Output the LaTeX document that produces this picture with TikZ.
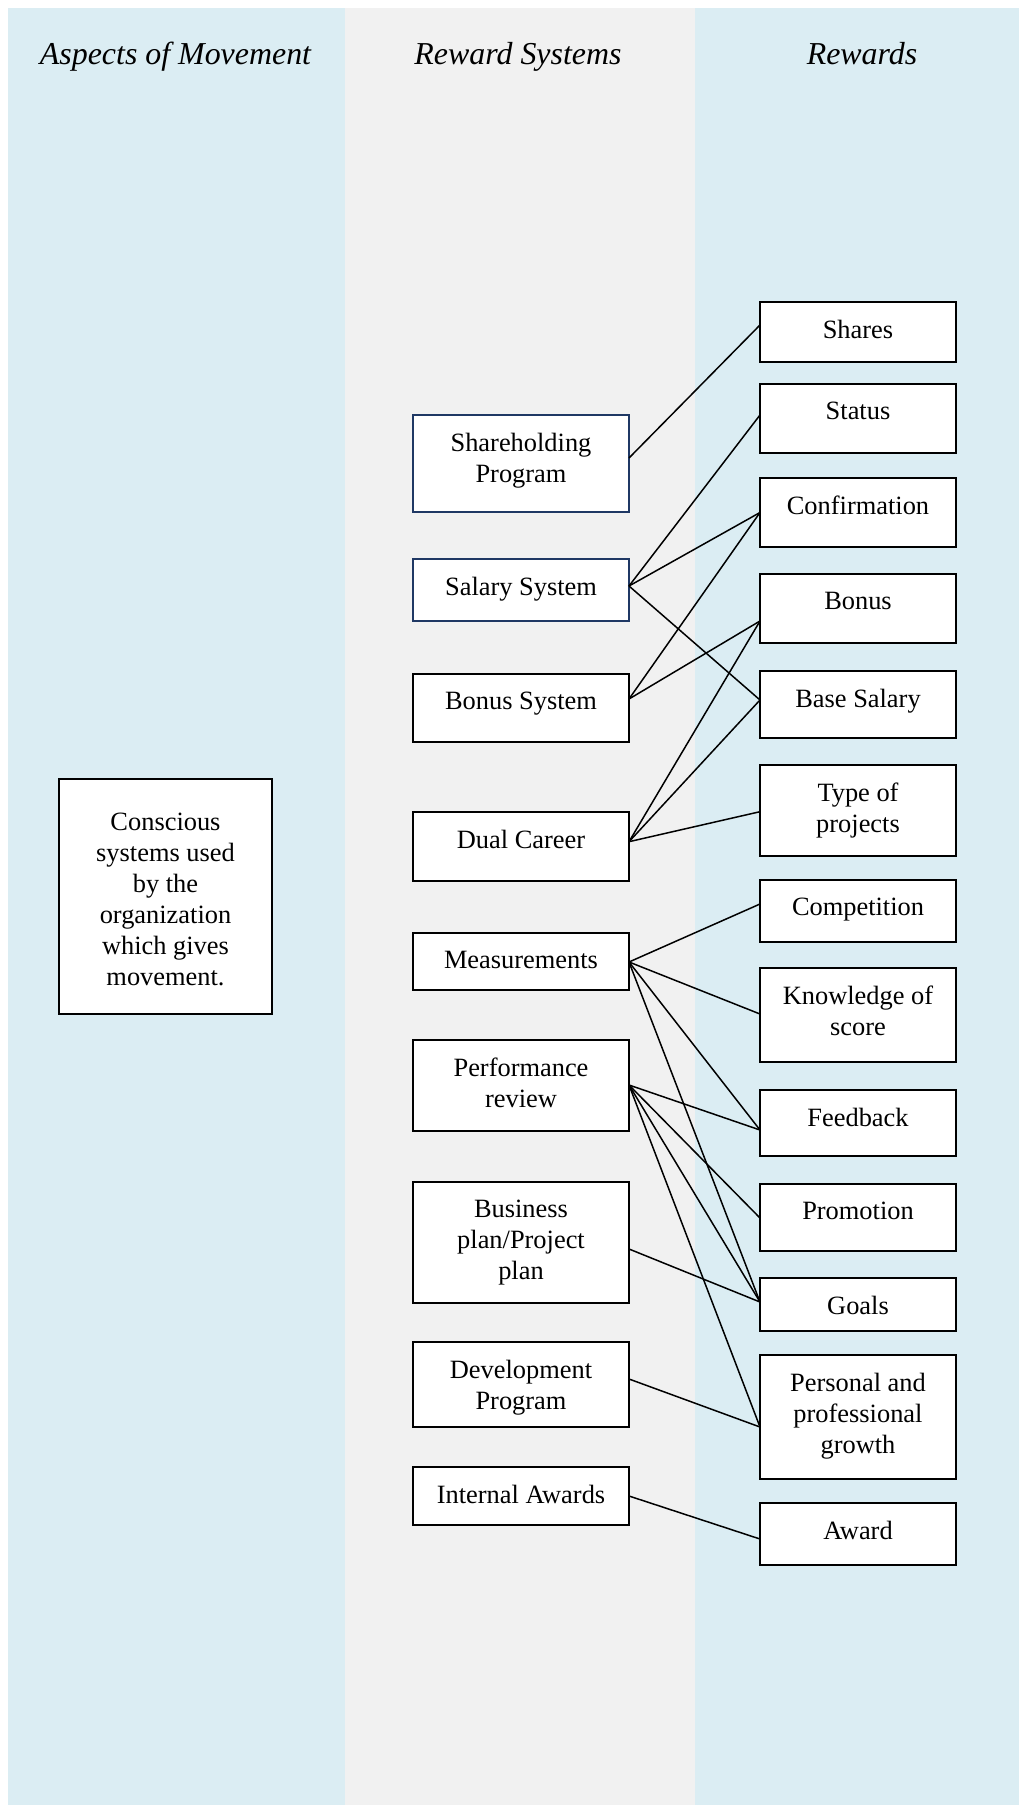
\documentclass[tikz,border=0pt]{standalone}
\usepackage{fontspec}
\setmainfont{Liberation Serif}
\usetikzlibrary{calc}

\definecolor{bandblue}{RGB}{219,237,243}
\definecolor{bandgray}{RGB}{241,241,241}
\definecolor{navyline}{RGB}{31,56,100}

% one drawing unit in points
\newcommand\pxu{0.4545pt}

\begin{document}
\begin{tikzpicture}[x=0.4545pt, y=-0.4545pt,
  textfont/.style={font=\fontsize{12}{14.1}\selectfont},
  heading/.style={font=\fontsize{14.5}{17}\selectfont\itshape, anchor=base, inner sep=0pt},
  box/.style={draw=black, fill=white, line width=0.72pt, inner sep=0pt, outer sep=0pt},
  navybox/.style={box, draw=navyline},
  midbox/.style={minimum width=216*\pxu},
  rightbox/.style={minimum width=196*\pxu},
  hgt/.style={minimum height=#1*\pxu},
  lbl/.style={textfont, anchor=north, inner sep=0pt, align=center},
  link/.style={draw=black, line width=0.68pt}
]
\useasboundingbox (0,0) rectangle (1019,1805);

% column bands
\fill[bandblue] (8,8) rectangle (345,1805);
\fill[bandgray] (345,8) rectangle (695,1805);
\fill[bandblue] (695,8) rectangle (1019,1805);

% column headings
\node[heading] (h1) at (175.5,65) {Aspects of Movement};
\node[heading] (h2) at (518,65) {Reward Systems};
\node[heading] (h3) at (862,65) {Rewards};

% aspect of movement
\node[box, minimum width=213*\pxu, hgt=235] (aspect) at (165.5,896.5) {};
\node[textfont, align=center, inner sep=0pt] (aspect-t) at (165.5,899)
  {Conscious\\systems used\\by the\\organization\\which gives\\movement.};

% reward systems
\node[navybox, midbox, hgt=97]  (share)    at (521,463.5)  {};
\node[navybox, midbox, hgt=62]  (salary)   at (521,590)    {};
\node[box, midbox, hgt=68]      (bonussys) at (521,708)    {};
\node[box, midbox, hgt=69]      (dual)     at (521,846.5)  {};
\node[box, midbox, hgt=57]      (meas)     at (521,961.5)  {};
\node[box, midbox, hgt=91]      (perf)     at (521,1085.5) {};
\node[box, midbox, hgt=121]     (business) at (521,1242.5) {};
\node[box, midbox, hgt=85]      (dev)      at (521,1384.5) {};
\node[box, midbox, hgt=58]      (awards)   at (521,1496)   {};

\node[lbl] (share-t)    at ($(share.north)+(0,17.5)$)    {Shareholding\\Program};
\node[lbl] (salary-t)   at ($(salary.north)+(0,17.5)$)   {Salary System};
\node[lbl] (bonussys-t) at ($(bonussys.north)+(0,17.5)$) {Bonus System};
\node[lbl] (dual-t)     at ($(dual.north)+(0,17.5)$)     {Dual Career};
\node[lbl] (meas-t)     at ($(meas.north)+(0,17.5)$)     {Measurements};
\node[lbl] (perf-t)     at ($(perf.north)+(0,17.5)$)     {Performance\\review};
\node[lbl] (business-t) at ($(business.north)+(0,17.5)$) {Business\\plan/Project\\plan};
\node[lbl] (dev-t)      at ($(dev.north)+(0,17.5)$)      {Development\\Program};
\node[lbl] (awards-t)   at ($(awards.north)+(0,17.5)$)   {Internal Awards};

% rewards
\node[box, rightbox, hgt=60]  (shares)   at (858,332)    {};
\node[box, rightbox, hgt=69]  (status)   at (858,418.5)  {};
\node[box, rightbox, hgt=69]  (confirm)  at (858,512.5)  {};
\node[box, rightbox, hgt=69]  (bonus)    at (858,608.5)  {};
\node[box, rightbox, hgt=67]  (base)     at (858,704.5)  {};
\node[box, rightbox, hgt=91]  (type)     at (858,810.5)  {};
\node[box, rightbox, hgt=62]  (compet)   at (858,911)    {};
\node[box, rightbox, hgt=94]  (know)     at (858,1015)   {};
\node[box, rightbox, hgt=66]  (feed)     at (858,1123)   {};
\node[box, rightbox, hgt=67]  (promo)    at (858,1217.5) {};
\node[box, rightbox, hgt=53]  (goals)    at (858,1304.5) {};
\node[box, rightbox, hgt=124] (personal) at (858,1417)   {};
\node[box, rightbox, hgt=62]  (award)    at (858,1534)   {};

\node[lbl] (shares-t)   at ($(shares.north)+(0,17.5)$)   {Shares};
\node[lbl] (status-t)   at ($(status.north)+(0,17.5)$)   {Status};
\node[lbl] (confirm-t)  at ($(confirm.north)+(0,17.5)$)  {Confirmation};
\node[lbl] (bonus-t)    at ($(bonus.north)+(0,17.5)$)    {Bonus};
\node[lbl] (base-t)     at ($(base.north)+(0,17.5)$)     {Base Salary};
\node[lbl] (type-t)     at ($(type.north)+(0,17.5)$)     {Type of\\projects};
\node[lbl] (compet-t)   at ($(compet.north)+(0,17.5)$)   {Competition};
\node[lbl] (know-t)     at ($(know.north)+(0,17.5)$)     {Knowledge of\\score};
\node[lbl] (feed-t)     at ($(feed.north)+(0,17.5)$)     {Feedback};
\node[lbl] (promo-t)    at ($(promo.north)+(0,17.5)$)    {Promotion};
\node[lbl] (goals-t)    at ($(goals.north)+(0,17.5)$)    {Goals};
\node[lbl] (personal-t) at ($(personal.north)+(0,17.5)$) {Personal and\\professional\\growth};
\node[lbl] (award-t)    at ($(award.north)+(0,17.5)$)    {Award};

% attachment points on the box sides
\coordinate (share-o)    at (share.east |- 0,458);
\coordinate (salary-o)   at (salary.east |- 0,586);
\coordinate (bonussys-o) at (bonussys.east |- 0,699);
\coordinate (dual-o)     at (dual.east |- 0,841.7);
\coordinate (meas-o)     at (meas.east |- 0,962);
\coordinate (perf-o)     at (perf.east |- 0,1085);
\coordinate (business-o) at (business.east |- 0,1249);
\coordinate (dev-o)      at (dev.east |- 0,1379);
\coordinate (awards-o)   at (awards.east |- 0,1496);

\coordinate (shares-i)   at (shares.west |- 0,325);
\coordinate (status-i)   at (status.west |- 0,415);
\coordinate (confirm-i)  at (confirm.west |- 0,512.5);
\coordinate (bonus-i)    at (bonus.west |- 0,621);
\coordinate (base-i)     at (base.west |- 0,700);
\coordinate (type-i)     at (type.west |- 0,811.7);
\coordinate (compet-i)   at (compet.west |- 0,904);
\coordinate (know-i)     at (know.west |- 0,1014);
\coordinate (feed-i)     at (feed.west |- 0,1130);
\coordinate (promo-i)    at (promo.west |- 0,1218);
\coordinate (goals-i)    at (goals.west |- 0,1302);
\coordinate (personal-i) at (personal.west |- 0,1427);
\coordinate (award-i)    at (award.west |- 0,1539);

% links from reward systems to rewards
\draw[link] (share-o) -- (shares-i);
\draw[link] (salary-o) -- (status-i);
\draw[link] (salary-o) -- (confirm-i);
\draw[link] (salary-o) -- (base-i);
\draw[link] (bonussys-o) -- (confirm-i);
\draw[link] (bonussys-o) -- (bonus-i);
\draw[link] (dual-o) -- (bonus-i);
\draw[link] (dual-o) -- (base-i);
\draw[link] (dual-o) -- (type-i);
\draw[link] (meas-o) -- (compet-i);
\draw[link] (meas-o) -- (know-i);
\draw[link] (meas-o) -- (feed-i);
\draw[link] (meas-o) -- (goals-i);
\draw[link] (perf-o) -- (feed-i);
\draw[link] (perf-o) -- (promo-i);
\draw[link] (perf-o) -- (goals-i);
\draw[link] (perf-o) -- (personal-i);
\draw[link] (business-o) -- (goals-i);
\draw[link] (dev-o) -- (personal-i);
\draw[link] (awards-o) -- (award-i);
\end{tikzpicture}
\end{document}
